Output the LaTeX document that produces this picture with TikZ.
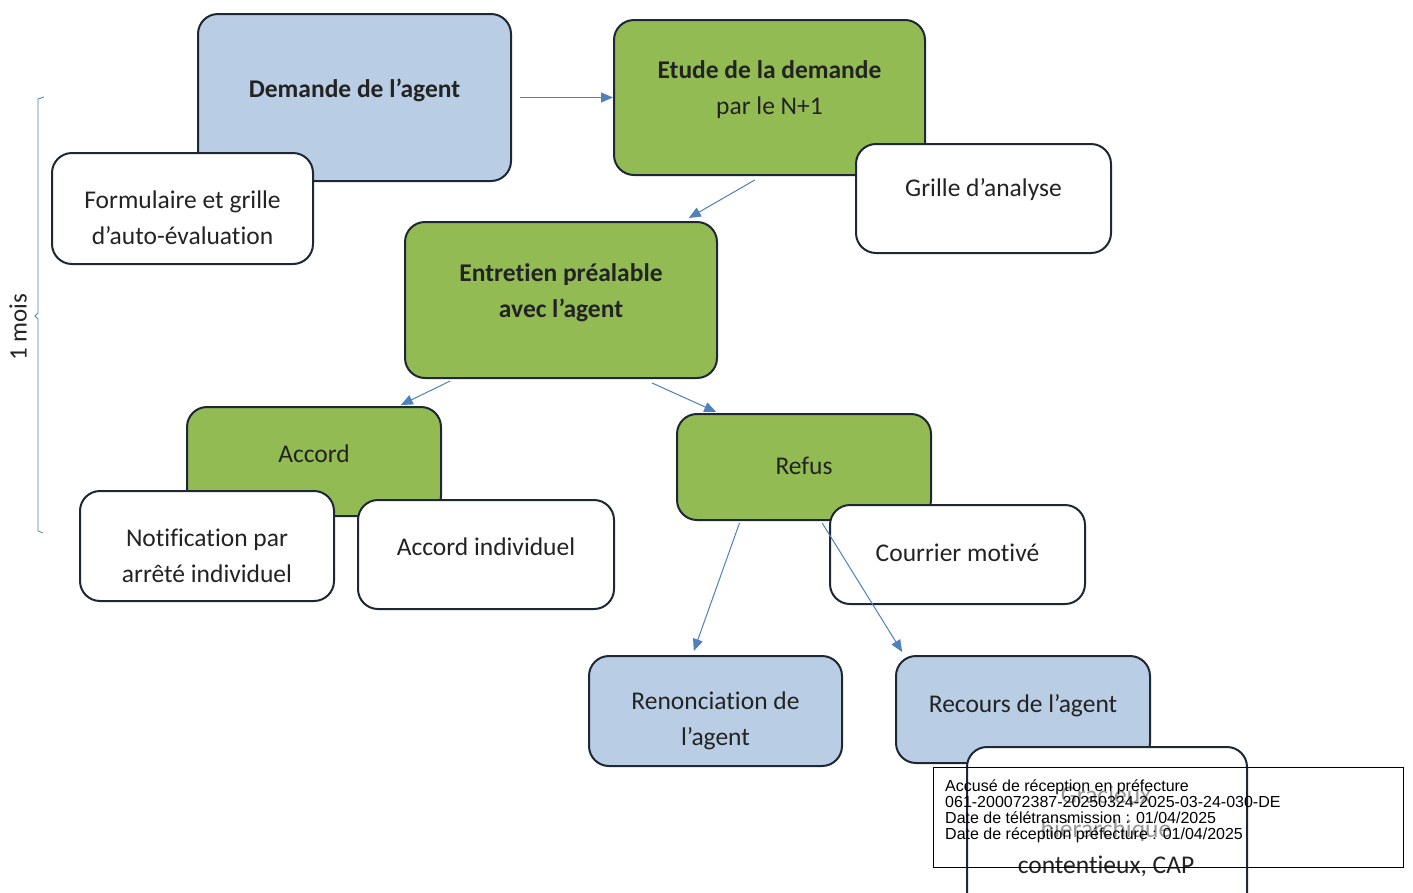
\documentclass[tikz,border=0pt]{standalone}
\usepackage{fontspec}
\setmainfont{Carlito}[Ligatures=NoCommon]
\newfontfamily\stampfont{Liberation Sans}
\usetikzlibrary{arrows.meta,calc}
\definecolor{boxblue}{RGB}{185,205,229}
\definecolor{boxgreen}{RGB}{146,187,84}
\definecolor{boxline}{RGB}{30,40,52}
\definecolor{arrblue}{RGB}{79,129,189}
\definecolor{txt}{RGB}{35,35,35}
\tikzset{
  rbox/.style={draw=boxline, line width=2pt, rounded corners=20pt, inner sep=0pt},
  bluebox/.style={rbox, fill=boxblue},
  greenbox/.style={rbox, fill=boxgreen},
  whitebox/.style={rbox, fill=white},
  boxtext/.style={align=center, font=\fontsize{25.5}{36}\selectfont, text=txt, inner sep=0pt},
  arr/.style={draw=arrblue, line width=1pt, -{Triangle[length=12pt,width=10pt]}},
}
\newcommand{\bx}[8]{% style, name, x1, y1, x2, y2, text-dy, text
  \node[#1, minimum width={#5-#3}, minimum height={#6-#4}] (#2) at ({(#3+#5)/2},{(#4+#6)/2}) {};
  \node[boxtext] (#2-t) at ($(#2.center)+(0,#7)$) {#8};}
\begin{document}
\begin{tikzpicture}[x=1pt,y=-1pt]
\useasboundingbox (0,0) rectangle (1413,892);
\fill[white] (0,0) rectangle (1413,892);

% brace and label
\draw[arrblue, line width=0.8pt] (44,97) -- (38,99) -- (38,313) -- (35,316) -- (38,319) -- (38,531) -- (43,533);
\node[rotate=90, font=\fontsize{25}{28}\selectfont, text=txt] (mois) at (18,327) {1 mois};

\bx{bluebox}{dem}{198}{14}{511}{181}{-7.5}{\textbf{Demande de l’agent}}
\bx{whitebox}{form}{52}{153}{313}{264}{9}{Formulaire et grille\\d’auto-évaluation}
\bx{greenbox}{etu}{614}{20}{925}{175}{-7.5}{\textbf{Etude de la demande}\\par le N+1}
\bx{whitebox}{grille}{856}{144}{1111}{253}{-8.5}{Grille d’analyse}
\bx{greenbox}{ent}{405}{222}{717}{378}{-7}{\textbf{Entretien préalable}\\\textbf{avec l’agent}}
\bx{greenbox}{acc}{187}{407}{441}{516}{-7.5}{Accord}
\bx{whitebox}{notif}{80}{491}{334}{601}{9.5}{Notification par\\arrêté individuel}
\bx{whitebox}{accind}{358}{500}{614}{609}{-7.5}{Accord individuel}
\bx{greenbox}{ref}{677}{414}{931}{520}{-1}{Refus}
\bx{whitebox}{cour}{830}{505}{1085}{604}{-1.5}{Courrier motivé}
\bx{bluebox}{ren}{589}{656}{842}{766}{10}{Renonciation de\\l’agent}
\bx{bluebox}{rec}{896}{656}{1150}{763}{-3.5}{Recours de l’agent}
\node[whitebox, minimum width=280pt, minimum height=170pt, anchor=north west] (grac) at (966,746) {};
\node[boxtext, text=black!40, font=\fontsize{25.5}{34}\selectfont] (grac-t) at (1106,814) {Gracieux\\hiérarchique};
\node[boxtext] (grac-t2) at (1106,866) {contentieux, CAP};

% connectors
\draw[arr] ([xshift=8pt]dem.east) -- (etu.west);
\draw[arr] ([yshift=-4pt]$(etu.south west)!0.453!(etu.south east)$) -- ([yshift=3pt]$(ent.north west)!0.907!(ent.north east)$);
\draw[arr] ([yshift=-2pt]$(ent.south west)!0.147!(ent.south east)$) -- ([yshift=1pt]$(acc.north west)!0.839!(acc.north east)$);
\draw[arr] ([yshift=-4pt]$(ent.south west)!0.79!(ent.south east)$) -- ([yshift=1pt]$(ref.north west)!0.157!(ref.north east)$);
\draw[arr] ([yshift=-2pt]$(ref.south west)!0.248!(ref.south east)$) -- ([yshift=4pt]$(ren.north west)!0.415!(ren.north east)$);
\draw[arr] ([yshift=-2pt]$(ref.south west)!0.571!(ref.south east)$) -- ([yshift=3pt]$(rec.north west)!0.028!(rec.north east)$);

% stamp
\node[draw=black, line width=0.8pt, minimum width=470pt, minimum height=100pt, anchor=north west, inner sep=0pt] (stamp) at (933,767) {};
\node[anchor=north west, align=left, font=\stampfont\fontsize{16}{16}\selectfont, text=black, inner sep=0pt] (stamptxt) at (945,780)
  {Accusé de réception en préfecture\\061-200072387-20250324-2025-03-24-030-DE\\Date de télétransmission : 01/04/2025\\Date de réception préfecture : 01/04/2025};
\end{tikzpicture}
\end{document}
